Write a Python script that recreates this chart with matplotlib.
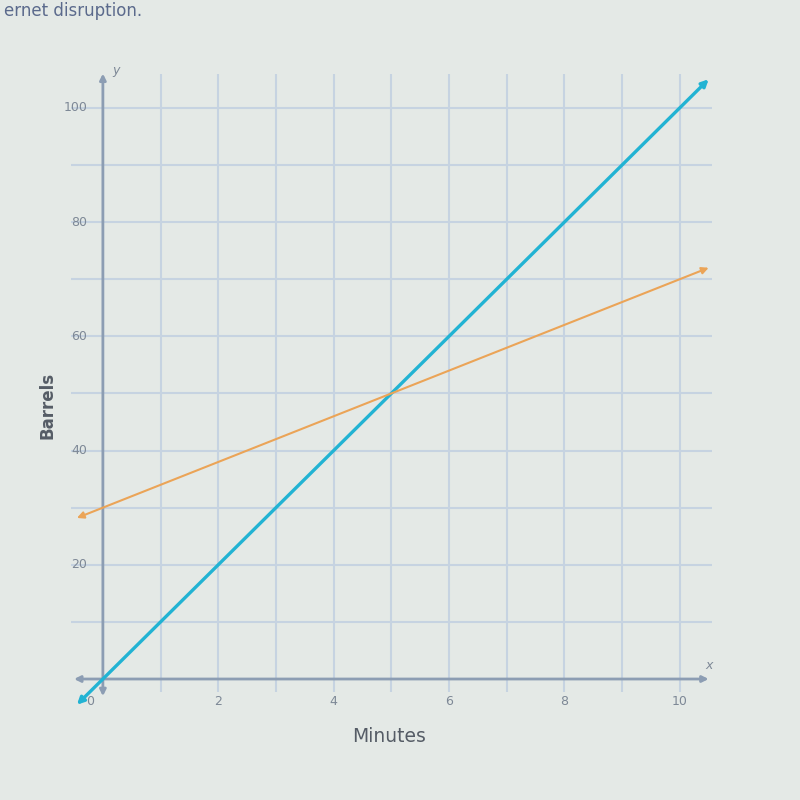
import matplotlib.pyplot as plt
import numpy as np

# data
minutes_a = [-0.45, 10.5]
barrels_a = [-4.5, 105]        # blue line, 10 barrels per minute
minutes_b = [-0.45, 10.5]
barrels_b = [28.2, 72]         # orange line, starts at 30, 4 per minute
x_labels = [0, 2, 4, 6, 8, 10]
y_labels = [20, 40, 60, 80, 100]
x_grid = np.arange(1, 11)
y_grid = np.arange(10, 101, 10)

bg = "#e4e9e6"
grid_c = "#c6d3e1"
axis_c = "#8c9db3"
label_c = "#7d8896"
blue = "#22b3d3"
orange = "#eba457"

fig = plt.figure(figsize=(8, 8), dpi=100, facecolor=bg)
ax = fig.add_axes([70/800, 1 - 705/800, 645/800, 640/800])
ax.set_facecolor(bg)
ax.set_xlim(-0.57, 10.61)
ax.set_ylim(-4.55, 107.5)
for s in ax.spines.values():
	s.set_visible(False)
ax.set_xticks([])
ax.set_yticks([])

# grid
ax.vlines(x_grid, -2.2, 106, color=grid_c, lw=1.5)
ax.hlines(y_grid, -0.55, 10.55, color=grid_c, lw=1.5)

# axes with arrows
arr = dict(arrowstyle="<|-|>", color=axis_c, lw=2, mutation_scale=9, shrinkA=0, shrinkB=0)
ax.annotate("", xy=(10.5, 0), xytext=(-0.5, 0), arrowprops=arr)
ax.annotate("", xy=(0, 106), xytext=(0, -3), arrowprops=arr)

# lines
def arrow_line(xs, ys, c, lw):
	ax.annotate("", xy=(xs[1], ys[1]), xytext=(xs[0], ys[0]),
		arrowprops=dict(arrowstyle="<|-|>", color=c, lw=lw, mutation_scale=10, shrinkA=0, shrinkB=0))

arrow_line(minutes_a, barrels_a, blue, 2.4)
arrow_line(minutes_b, barrels_b, orange, 1.5)

# tick labels
for v in x_labels:
	xo = -0.22 if v == 0 else 0
	ax.text(v + xo, -4.0, str(v), ha="center", va="center", fontsize=9, color=label_c, clip_on=False)
for v in y_labels:
	ax.text(-0.27, v, str(v), ha="right", va="center", fontsize=9, color=label_c)

ax.text(0.22, 106.5, "y", fontsize=9, style="italic", color=label_c, ha="center", va="center")
ax.text(10.5, 2.4, "x", fontsize=9, style="italic", color=label_c, ha="center", va="center")

fig.text(389/800, 1 - 737/800, "Minutes", ha="center", va="center", fontsize=13.5, color="#555c66")
fig.text(47/800, 1 - 405/800, "Barrels", ha="center", va="center", fontsize=12, color="#555c66",
	rotation=90, fontweight="bold")
fig.text(0.005, 0.997, "ernet disruption.", ha="left", va="top", fontsize=12, color="#5b6a8c")

fig.savefig("out.png", facecolor=fig.get_facecolor())
